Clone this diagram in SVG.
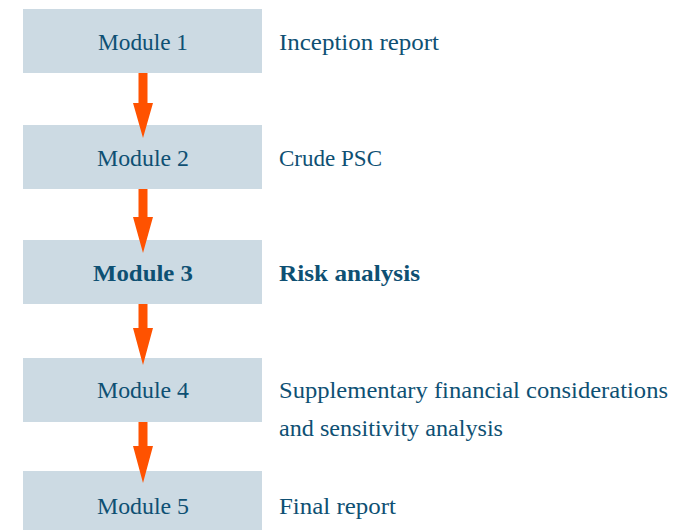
<svg xmlns="http://www.w3.org/2000/svg" width="694" height="530" viewBox="0 0 694 530">
  <style>
    .box { fill: #CCDAE3; }
    .lbl { font-family: "Liberation Serif", "DejaVu Serif", serif; font-size: 23px; fill: #0E5073; }
    .mid { text-anchor: middle; }
    .bold { font-weight: bold; }
    .arrow { fill: #FF5200; }
  </style>
  <rect width="694" height="530" fill="#FFFFFF"/>

  <g id="module1">
    <rect class="box" x="23" y="9" width="239" height="64"/>
    <text class="lbl mid" x="143" y="50" textLength="90" lengthAdjust="spacingAndGlyphs">Module 1</text>
    <text class="lbl" x="279" y="50" textLength="160" lengthAdjust="spacingAndGlyphs">Inception report</text>
  </g>
  <g id="module2">
    <rect class="box" x="23" y="125" width="239" height="64"/>
    <text class="lbl mid" x="143" y="166" textLength="92" lengthAdjust="spacingAndGlyphs">Module 2</text>
    <text class="lbl" x="279" y="166" textLength="103" lengthAdjust="spacingAndGlyphs">Crude PSC</text>
  </g>
  <g id="module3">
    <rect class="box" x="23" y="240" width="239" height="64"/>
    <text class="lbl mid bold" x="143" y="281" textLength="100" lengthAdjust="spacingAndGlyphs">Module 3</text>
    <text class="lbl bold" x="279" y="281" textLength="141" lengthAdjust="spacingAndGlyphs">Risk analysis</text>
  </g>
  <g id="module4">
    <rect class="box" x="23" y="358" width="239" height="64"/>
    <text class="lbl mid" x="143" y="398" textLength="92" lengthAdjust="spacingAndGlyphs">Module 4</text>
    <text class="lbl" x="279" y="398" textLength="389" lengthAdjust="spacingAndGlyphs">Supplementary financial considerations</text>
    <text class="lbl" x="279" y="436" textLength="224" lengthAdjust="spacingAndGlyphs">and sensitivity analysis</text>
  </g>
  <g id="module5">
    <rect class="box" x="23" y="471" width="239" height="59"/>
    <text class="lbl mid" x="143" y="514" textLength="92" lengthAdjust="spacingAndGlyphs">Module 5</text>
    <text class="lbl" x="279" y="514" textLength="117" lengthAdjust="spacingAndGlyphs">Final report</text>
  </g>

  <!-- downward arrows between modules; heads overlap the next box -->
  <g id="connectors" class="arrow">
    <path d="M138.5 73 H147.5 V103 H153 L143 138 L133 103 H138.5 Z"/>
    <path d="M138.5 189 H147.5 V217 H153 L143 253 L133 217 H138.5 Z"/>
    <path d="M138.5 304 H147.5 V328 H153 L143 365 L133 328 H138.5 Z"/>
    <path d="M138.5 422 H147.5 V446 H153 L143 483 L133 446 H138.5 Z"/>
  </g>
</svg>
